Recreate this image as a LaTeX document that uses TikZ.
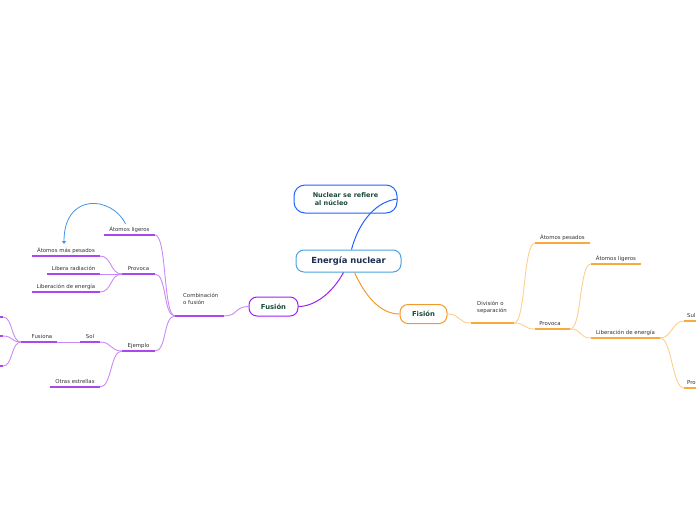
\documentclass[tikz,border=0pt]{standalone}
\usepackage{fontspec}
\setmainfont{DejaVu Sans}
\usetikzlibrary{arrows.meta,calc}
\definecolor{pdark}{HTML}{A020F0}
\definecolor{pline}{HTML}{A848EE}
\definecolor{pcurv}{HTML}{C98AF5}
\definecolor{odark}{HTML}{F39A2C}
\definecolor{oline}{HTML}{F8AA3C}
\definecolor{ocurv}{HTML}{FCCF8C}
\definecolor{bnode}{HTML}{4AA3E0}
\definecolor{bnode2}{HTML}{2063FF}
\definecolor{barrow}{HTML}{4196E8}
\definecolor{txt}{HTML}{333333}
\definecolor{navy}{HTML}{1E2D4F}
\definecolor{dgreen}{HTML}{1A4A3A}
\tikzset{
  lbl/.style={font=\fontsize{5.4}{6}\selectfont, text=txt, inner sep=0pt, anchor=base},
  lbl2/.style={font=\fontsize{5.4}{6.8}\selectfont, text=txt, inner sep=0pt, anchor=base west, align=left},
  pul/.style={draw=pline, line width=2pt},
  oul/.style={draw=oline, line width=2pt},
  pcur/.style={draw=pcurv, line width=0.9pt},
  ocur/.style={draw=ocurv, line width=0.9pt},
  topic/.style={rounded corners=8pt, fill=white, line width=1pt, inner sep=0pt, font=\bfseries\fontsize{6.8}{8}\selectfont, text=dgreen},
}
\begin{document}
\begin{tikzpicture}[x=1pt,y=-1pt]
\useasboundingbox (0,0) rectangle (696,520);
\clip (0,0) rectangle (696,520);
% central nodes
\node[topic, draw=bnode, minimum width=105pt, minimum height=22pt, font=\bfseries\fontsize{8.4}{9}\selectfont, text=navy] (cen) at (348.5,261) {Energía nuclear};
\node[topic, draw=bnode2, rounded corners=11pt, minimum width=103pt, minimum height=28pt, font=\bfseries\fontsize{6.5}{7.5}\selectfont, align=left] (nuc) at (345.5,199) {Nuclear se refiere\\ \hspace*{2pt}al núcleo};
\node[topic, draw=pdark, minimum width=49pt, minimum height=19pt] (fus) at (273.5,306.5) {Fusión};
\node[topic, draw=odark, minimum width=47pt, minimum height=19pt] (fis) at (423.5,314) {Fisión};
% main connectors
\draw[draw=bnode2, line width=1pt] ($(cen.north)+(3,0)$) .. controls +(8,-30) and +(-20,2) .. (nuc.east);
\draw[draw=pdark, line width=1pt] ($(cen.south)+(-5,0)$) .. controls +(-12,22) and +(15,0) .. (fus.east);
\draw[draw=odark, line width=1pt] ($(cen.south)+(6,0)$) .. controls +(10,22) and +(-20,0) .. (fis.west);

% ---------- Fusion side ----------
\coordinate (combL) at (175,316); \coordinate (combR) at (224,316);
\draw[pul] (combL) -- (combR);
\node[lbl2] (comb) at (183,304.5) {Combinación\\o fusión};
\draw[pcur] (fus.west) .. controls +(-14,0) and +(14,0) .. (combR);

\coordinate (alL) at (104,235); \coordinate (alR) at (155,235);
\draw[pul] (alL) -- (alR);
\node[lbl] (al) at (129.5,231) {Átomos ligeros};
\coordinate (prL) at (122,274); \coordinate (prR) at (155,274);
\draw[pul] (prL) -- (prR);
\node[lbl] (pr) at (138.5,270) {Provoca};
\coordinate (ejL) at (122,351); \coordinate (ejR) at (155,351);
\draw[pul] (ejL) -- (ejR);
\node[lbl] (ej) at (138.5,347) {Ejemplo};
\draw[pcur] (combL) .. controls +(-12,0) and +(12,0) .. (alR);
\draw[pcur] (combL) .. controls +(-12,0) and +(12,0) .. (prR);
\draw[pcur] (combL) .. controls +(-12,0) and +(12,0) .. (ejR);

\coordinate (ampL) at (32,256); \coordinate (ampR) at (100,256);
\draw[pul] (ampL) -- (ampR);
\node[lbl] (amp) at (66,252) {Átomos más pesados};
\coordinate (lrL) at (47,274); \coordinate (lrR) at (100,274);
\draw[pul] (lrL) -- (lrR);
\node[lbl] (lr) at (73.5,270) {Libera radiación};
\coordinate (lenL) at (32,292); \coordinate (lenR) at (100,292);
\draw[pul] (lenL) -- (lenR);
\node[lbl] (len) at (66,288) {Liberación de energía};
\draw[pcur] (prL) .. controls +(-12,0) and +(12,0) .. (ampR);
\draw[pcur] (prL) -- (lrR);
\draw[pcur] (prL) .. controls +(-12,0) and +(12,0) .. (lenR);

\coordinate (solL) at (80,342); \coordinate (solR) at (100,342);
\draw[pul] (solL) -- (solR);
\node[lbl] (sol) at (90,338) {Sol};
\coordinate (oeL) at (50,387); \coordinate (oeR) at (100,387);
\draw[pul] (oeL) -- (oeR);
\node[lbl] (oe) at (75,383) {Otras estrellas};
\draw[pcur] (ejL) .. controls +(-12,0) and +(12,0) .. (solR);
\draw[pcur] (ejL) .. controls +(-12,0) and +(12,0) .. (oeR);

\coordinate (fnL) at (21,342); \coordinate (fnR) at (57,342);
\draw[pul] (fnL) -- (fnR);
\node[lbl] (fn) at (42,338) {Fusiona};
\draw[pcur] (solL) -- (fnR);
\coordinate (f1R) at (3,317); \coordinate (f1L) at (-30,317);
\coordinate (f2R) at (3,336); \coordinate (f2L) at (-30,336);
\coordinate (f3R) at (3,366); \coordinate (f3L) at (-30,366);
\draw[pul] (f1L) -- (f1R);
\draw[pul] (f2L) -- (f2R);
\draw[pul] (f3L) -- (f3R);
\draw[pcur] (fnL) .. controls +(-10,0) and +(10,0) .. (f1R);
\draw[pcur] (fnL) .. controls +(-10,0) and +(10,0) .. (f2R);
\draw[pcur] (fnL) .. controls +(-10,0) and +(10,0) .. (f3R);

% blue relationship arrow
\draw[draw=barrow, line width=0.8pt, -{Triangle[length=3pt,width=4pt]}] ($(al.north)+(-4,-2)$) .. controls (112,196) and (64,192) .. (64,244);

% ---------- Fission side ----------
\coordinate (dsL) at (471,323); \coordinate (dsR) at (514,323);
\draw[oul] (dsL) -- (dsR);
\node[lbl2] (ds) at (477,312) {División o\\separación};
\draw[ocur] (fis.east) .. controls +(14,0) and +(-14,0) .. (dsL);

\coordinate (apL) at (535,243); \coordinate (apR) at (590,243);
\draw[oul] (apL) -- (apR);
\node[lbl] (ap) at (562.5,239) {Átomos pesados};
\coordinate (opL) at (535,329); \coordinate (opR) at (570,329);
\draw[oul] (opL) -- (opR);
\node[lbl] (op) at (550,325) {Provoca};
\draw[ocur] (dsR) .. controls +(12,0) and +(-12,0) .. (apL);
\draw[ocur] (dsR) .. controls +(12,0) and +(-12,0) .. (opL);

\coordinate (olL) at (591,264); \coordinate (olR) at (641,264);
\draw[oul] (olL) -- (olR);
\node[lbl] (ol) at (616,260) {Átomos ligeros};
\coordinate (oleL) at (591,338); \coordinate (oleR) at (660,338);
\draw[oul] (oleL) -- (oleR);
\node[lbl] (ole) at (625.5,334) {Liberación de energía};
\draw[ocur] (opR) .. controls +(12,0) and +(-12,0) .. (olL);
\draw[ocur] (opR) .. controls +(12,0) and +(-12,0) .. (oleL);

\coordinate (suL) at (684,321); \coordinate (suR) at (700,321);
\draw[oul] (suL) -- (suR);
\node[lbl, anchor=base west] (su) at (687,317.5) {Sul};
\coordinate (poL) at (684,388); \coordinate (poR) at (700,388);
\draw[oul] (poL) -- (poR);
\node[lbl, anchor=base west] (po) at (687,384.5) {Pro};
\draw[ocur] (oleR) .. controls +(12,0) and +(-12,0) .. (suL);
\draw[ocur] (oleR) .. controls +(12,0) and +(-12,0) .. (poL);
\end{tikzpicture}
\end{document}
